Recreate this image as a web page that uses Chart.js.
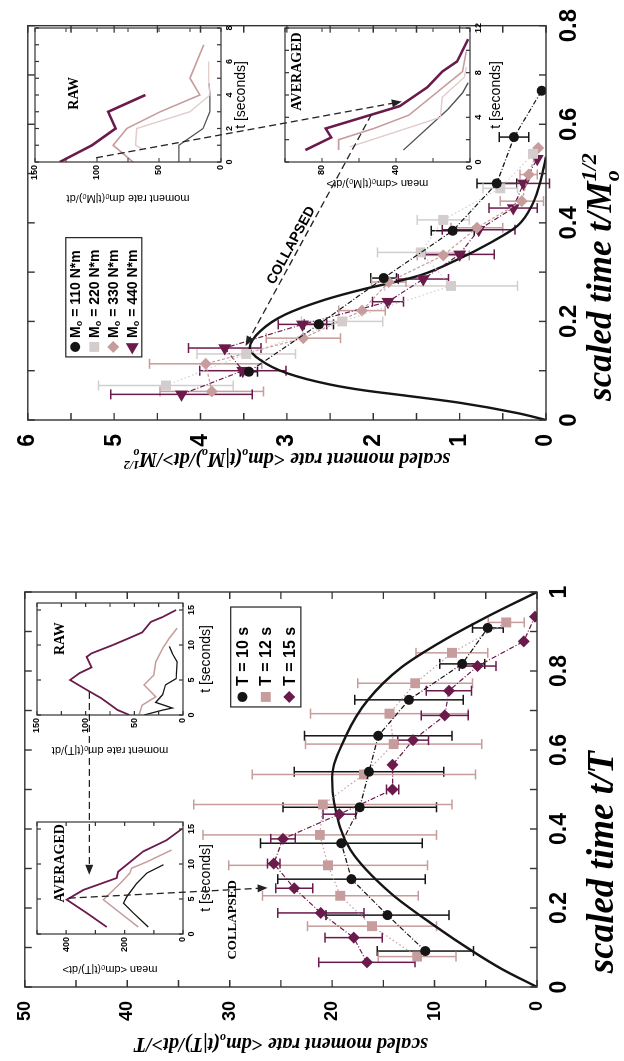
<!DOCTYPE html>
<html>
<head>
<meta charset="utf-8">
<title>moment rate collapse</title>
<script src="https://cdn.jsdelivr.net/npm/chart.js@4.4.1/dist/chart.umd.min.js"></script>
<style>
  html, body { margin: 0; padding: 0; background: #fff; overflow: hidden; }
  /* the whole figure is laid out landscape and turned a quarter turn */
  #fig { position: absolute; left: 0; top: 0; width: 1061px; height: 624px;
         transform-origin: 0 0; transform: translate(0, 1061px) rotate(-90deg); }
  #fig canvas { position: absolute; }
</style>
</head>
<body>
<div id="fig">
  <canvas id="mainT"></canvas>
  <canvas id="mainM"></canvas>
  <canvas id="rawT"></canvas>
  <canvas id="avgT"></canvas>
  <canvas id="rawM"></canvas>
  <canvas id="avgM"></canvas>
  <canvas id="noteT"></canvas>
  <canvas id="noteM"></canvas>
</div>
<script>
// ---------- left panel: fixed duration T, scaled time t/T ----------
var xT10 = [0.091, 0.182, 0.273, 0.364, 0.455, 0.545, 0.636, 0.727, 0.818, 0.909];
var yT10 = [10.9, 14.6, 18.1, 19.1, 17.3, 16.4, 15.5, 12.5, 7.3, 4.8];
var eT10 = [4.7, 6.0, 7.2, 7.9, 7.5, 7.3, 7.2, 5.3, 2.2, 1.5];

var xT12 = [0.077, 0.154, 0.231, 0.308, 0.385, 0.462, 0.538, 0.615, 0.692, 0.769, 0.846, 0.923];
var yT12 = [11.7, 16.1, 19.2, 20.4, 21.2, 20.9, 16.9, 14.0, 14.4, 11.9, 8.3, 3.0];
var eT12 = [3.8, 6.3, 7.6, 9.7, 11.4, 12.6, 10.9, 8.6, 7.7, 5.6, 3.5, 1.75];

var xT15 = [0.0625, 0.125, 0.1875, 0.25, 0.3125, 0.375, 0.4375, 0.5, 0.5625, 0.625, 0.6875, 0.75, 0.8125, 0.875, 0.9375];
var yT15 = [16.6, 17.9, 21.1, 23.7, 25.7, 24.8, 19.3, 14.1, 14.1, 12.1, 9.0, 8.6, 5.8, 1.3, 0.2];
var eT15 = [4.7, 2.8, 4.2, 1.8, 0.6, 1.2, 1.6, 0.6, 0, 1.5, 2.3, 2.2, 1.8, 0, 0];

var xCollT = [0, 0.045, 0.089, 0.157, 0.238, 0.347, 0.466, 0.53, 0.633, 0.727, 0.808, 0.878, 0.937, 1];
var yCollT = [0, 3.4, 6.2, 10.1, 14.3, 18.2, 19.8, 20.0, 18.7, 16.5, 13.3, 9.1, 4.9, 0];

// insets, seconds vs moment rate
var rawT15t = [0, 0.7, 2.4, 3.6, 5.0, 6.0, 6.8, 8.3, 8.8, 10, 11, 11.8, 13.3, 14, 15];
var rawT15r = [55, 67, 84, 99, 116, 106, 94, 99, 94, 72, 55, 42, 33, 21, 7];
var rawT12t = [0.1, 1.4, 2.6, 4.3, 5.7, 7.6, 9.5, 11, 12.4];
var rawT12r = [45, 42, 28, 40, 30, 28, 21, 14, 6];
var rawT10t = [0, 0.7, 1.0, 1.8, 2.9, 4.3, 5.2, 7.6, 8.8, 9.8];
var rawT10r = [40, 21, 11, 28, 21, 18, 7, 6, 11, 14];

var avgT15t = [1.0, 3.0, 4.9, 6.3, 8.0, 8.9, 11.8, 13.4, 15];
var avgT15r = [261, 330, 398, 341, 227, 222, 136, 56, 4];
var avgT12t = [1.0, 4.9, 7.2, 8.7, 9.4, 10.3, 12];
var avgT12r = [153, 273, 216, 182, 176, 124, 39];
var avgT10t = [1.0, 3.0, 4.4, 5.3, 7.2, 8.7, 9.9];
var avgT10r = [119, 170, 204, 193, 159, 124, 67];

// ---------- right panel: fixed moment M0, scaled time t/M0^1/2 ----------
var xM110 = [0.098, 0.194, 0.288, 0.384, 0.48, 0.574, 0.668];
var yM110 = [3.44, 2.63, 1.88, 1.08, 0.57, 0.37, 0.05];
var eM110 = [0.1, 0.17, 0.15, 0.25, 0.23, 0.17, 0];

var xM220 = [0.07, 0.134, 0.2, 0.272, 0.34, 0.406, 0.47, 0.54];
var yM220 = [4.4, 3.47, 2.36, 1.1, 1.45, 1.19, 0.53, 0.15];
var eM220 = [0.78, 0.57, 0.47, 0.77, 0.5, 0.3, 0.2, 0];

var xM330 = [0.058, 0.114, 0.166, 0.222, 0.28, 0.334, 0.39, 0.444, 0.498, 0.552];
var yM330 = [3.87, 3.94, 2.81, 2.13, 1.82, 1.19, 0.8, 0.28, 0.2, 0.09];
var eM330 = [0.6, 0.65, 0.43, 0.27, 0.2, 0.3, 0.3, 0.25, 0.1, 0];

var xM440 = [0.052, 0.1, 0.146, 0.194, 0.24, 0.286, 0.336, 0.386, 0.43, 0.48, 0.53];
var yM440 = [4.22, 3.51, 3.72, 2.82, 1.83, 1.42, 1.0, 0.78, 0.38, 0.26, 0.1];
var eM440 = [0.82, 0.5, 0.42, 0.28, 0.18, 0.29, 0.4, 0.42, 0.28, 0.3, 0];

var xCollM = [0, 0.014, 0.035, 0.05, 0.06, 0.072, 0.095, 0.122, 0.146, 0.18, 0.214, 0.244, 0.266, 0.28, 0.294, 0.326, 0.36, 0.394, 0.44, 0.494, 0.534];
var yCollM = [0, 0.33, 1.0, 1.65, 2.1, 2.5, 3.0, 3.31, 3.43, 3.31, 3.02, 2.56, 2.1, 1.75, 1.45, 1.02, 0.64, 0.33, 0.15, 0.05, 0];

var rawM440t = [0, 1, 2, 3, 4];
var rawM440r = [130, 104, 85, 91, 61];
var rawM330t = [0, 1, 2, 3, 4, 5, 7];
var rawM330r = [71, 87, 76, 49, 17, 25, 14];
var rawM220t = [0.8, 1, 2, 3, 4, 5, 6];
var rawM220r = [64, 69, 68, 25, 9, 10, 10];
var rawM110t = [0, 1, 2, 3, 4, 4.7];
var rawM110r = [34, 34, 14.5, 9, 9, 9.5];

var avgM440t = [1.07, 2.2, 3.0, 5.0, 6.7, 8.1, 9.0, 10, 11];
var avgM440r = [89, 75, 78, 38, 23, 15, 7, 4, 1];
var avgM330t = [1.07, 2.0, 3.0, 4.2, 6.5, 8.1, 9.9];
var avgM330r = [71, 71, 52, 33, 16, 4, 2];
var avgM220t = [1.35, 4.0, 5.8, 7.6, 8.5];
var avgM220r = [65, 16, 15, 3, 2];
var avgM110t = [1.07, 4.7, 6.2, 7.1];
var avgM110r = [36, 12, 4, 1];

var BLACK = '#151515', GREY = '#d3cdcd', TAN = '#c79c9c', PURPLE = '#6b1a4c', PINK = '#e2cccc', DGREY = '#505050';
var SANS = "'Liberation Sans', Arial, sans-serif";
var SERIF = "'Liberation Serif', 'Times New Roman', serif";
Chart.defaults.font.family = SANS;
Chart.defaults.color = '#000';

function pts(xs, ys) { return xs.map(function (x, i) { return { x: x, y: ys[i] }; }); }

function place(cv, u, v, w, h) {
  cv.width = w; cv.height = h;
  cv.style.left = u + 'px'; cv.style.top = v + 'px';
  cv.style.width = w + 'px'; cv.style.height = h + 'px';
}

// text runs with subscripts / superscripts; a sup right after a sub stacks on it
function layoutRich(c, parts, size, style, fam) {
  var x = 0, out = [], sub = null;
  parts.forEach(function (p) {
    var kind = p[1] || '';
    var f = style + ' ' + (kind ? Math.round(size * 0.62) : size) + 'px ' + fam;
    c.font = f;
    var w = c.measureText(p[0]).width, px = x;
    if (kind === 'sup' && sub) px = sub.x;
    out.push({ t: p[0], f: f, x: px, dy: kind === 'sub' ? size * 0.22 : kind === 'sup' ? -size * 0.42 : 0 });
    if (kind === 'sub') { sub = { x: px, w: w }; x = px + w; }
    else if (kind === 'sup' && sub) { x = Math.max(sub.x + sub.w, px + w); sub = null; }
    else { x = px + w; sub = null; }
  });
  return { items: out, width: x };
}
function drawRich(c, L, x0, y0) {
  L.items.forEach(function (it) { c.font = it.f; c.fillText(it.t, x0 + it.x, y0 + it.dy); });
}

function marker(c, style, x, y, r, rot, col) {
  c.save();
  c.translate(x, y); c.rotate((rot || 0) * Math.PI / 180);
  c.fillStyle = col; c.beginPath();
  if (style === 'circle') c.arc(0, 0, r, 0, 2 * Math.PI);
  else if (style === 'rect') { var s = r * Math.SQRT1_2; c.rect(-s, -s, 2 * s, 2 * s); }
  else if (style === 'rectRot') { c.moveTo(0, -r); c.lineTo(r, 0); c.lineTo(0, r); c.lineTo(-r, 0); c.closePath(); }
  else if (style === 'triangle') {
    c.moveTo(0, -r); c.lineTo(r * Math.sin(Math.PI * 2 / 3), -r * Math.cos(Math.PI * 2 / 3));
    c.lineTo(-r * Math.sin(Math.PI * 2 / 3), -r * Math.cos(Math.PI * 2 / 3)); c.closePath();
  }
  c.fill();
  c.restore();
}

// closed box with inward ticks on every side
function boxFrame(f) {
  return {
    id: 'boxFrame',
    afterDraw: function (chart) {
      var c = chart.ctx, a = chart.chartArea, x = chart.scales.x, y = chart.scales.y, i, n, p;
      c.save();
      c.strokeStyle = '#333'; c.lineWidth = f.width;
      c.strokeRect(a.left, a.top, a.right - a.left, a.bottom - a.top);
      c.beginPath();
      n = Math.round((x.max - x.min) / f.xStep);
      for (i = 0; i <= n; i++) {
        p = x.getPixelForValue(x.min + i * f.xStep);
        c.moveTo(p, a.bottom); c.lineTo(p, a.bottom - f.len);
        c.moveTo(p, a.top); c.lineTo(p, a.top + f.len);
      }
      n = Math.round((y.max - y.min) / f.yStep);
      for (i = 0; i <= n; i++) {
        p = y.getPixelForValue(y.min + i * f.yStep);
        c.moveTo(a.left, p); c.lineTo(a.left + f.len, p);
        c.moveTo(a.right, p); c.lineTo(a.right - f.len, p);
      }
      c.stroke();
      c.restore();
    }
  };
}

var errorBars = {
  id: 'errorBars',
  beforeDatasetsDraw: function (chart) {
    var c = chart.ctx, x = chart.scales.x, y = chart.scales.y;
    chart.data.datasets.forEach(function (ds) {
      if (!ds.err) return;
      c.save();
      c.strokeStyle = ds.errColor; c.lineWidth = 1.5;
      c.beginPath();
      ds.data.forEach(function (p, i) {
        var e = ds.err[i];
        if (!e) return;
        var px = x.getPixelForValue(p.x), lo = y.getPixelForValue(p.y - e), hi = y.getPixelForValue(p.y + e);
        c.moveTo(px, lo); c.lineTo(px, hi);
        c.moveTo(px - 5, lo); c.lineTo(px + 5, lo);
        c.moveTo(px - 5, hi); c.lineTo(px + 5, hi);
      });
      c.stroke();
      c.restore();
    });
  }
};

function keyBox(k) {
  return {
    id: 'keyBox',
    afterDraw: function (chart) {
      var c = chart.ctx, x = chart.scales.x, y = chart.scales.y;
      var l = x.getPixelForValue(k.x0), r = x.getPixelForValue(k.x1);
      var t = y.getPixelForValue(k.y0), b = y.getPixelForValue(k.y1);
      c.save();
      c.fillStyle = '#fff'; c.fillRect(l, t, r - l, b - t);
      c.strokeStyle = '#222'; c.lineWidth = 1.2; c.strokeRect(l, t, r - l, b - t);
      var items = chart.data.datasets.filter(function (ds) { return ds.key; });
      var step = (b - t) / items.length;
      c.textBaseline = 'middle'; c.fillStyle = '#000';
      items.forEach(function (ds, i) {
        var cy = t + step * (i + 0.5);
        marker(c, ds.pointStyle, l + 10, cy, ds.pointRadius, ds.pointRotation, ds.backgroundColor);
        c.fillStyle = '#000';
        drawRich(c, layoutRich(c, ds.key, k.size, 'bold', SANS), l + k.gap, cy + 1);
      });
      c.restore();
    }
  };
}

function axisTitles(o) {
  return {
    id: 'axisTitles',
    afterDraw: function (chart) {
      var c = chart.ctx, a = chart.chartArea, x = chart.scales.x;
      c.save();
      c.fillStyle = '#000'; c.textBaseline = 'alphabetic';
      var L = layoutRich(c, o.x, o.xSize, 'italic bold', SERIF);
      drawRich(c, L, x.getPixelForValue(o.xAt) - L.width / 2, a.bottom + o.xOff);
      c.translate(o.yPos, (a.top + a.bottom) / 2);
      c.rotate(-Math.PI / 2);
      L = layoutRich(c, o.y, o.ySize, 'italic bold', SERIF);
      drawRich(c, L, -L.width / 2, 0);
      c.restore();
    }
  };
}

function series(label, xs, ys, es, style, col, r, dash, key, rot) {
  return {
    label: label, data: pts(xs, ys), err: es, errColor: col, key: key,
    pointStyle: style, pointRadius: r, pointRotation: rot || 0, pointHoverRadius: r,
    backgroundColor: col, borderColor: col, pointBorderWidth: 0,
    showLine: true, borderWidth: 1.2, borderDash: dash
  };
}
function curve(xs, ys) {
  return { data: pts(xs, ys), showLine: true, pointRadius: 0, borderColor: BLACK, borderWidth: 2.4,
           cubicInterpolationMode: 'monotone', backgroundColor: BLACK };
}

function mainChart(id, p) {
  return new Chart(document.getElementById(id), {
    type: 'scatter',
    data: { datasets: p.datasets },
    options: {
      responsive: false, animation: false, devicePixelRatio: 1,
      layout: { padding: { top: 23, right: p.padRight, left: 0, bottom: 0 } },
      plugins: { legend: { display: false }, tooltip: { enabled: false } },
      scales: {
        x: {
          type: 'linear', min: 0, max: p.xMax,
          afterFit: function (s) { s.height = p.xAxisH; },
          grid: { display: false, drawTicks: false }, border: { display: false },
          ticks: { stepSize: 0.2, padding: 9, maxRotation: 0, color: '#000',
                   font: { size: p.xFont, weight: 'bold' },
                   callback: function (v) { return String(Math.round(v * 10) / 10); } }
        },
        y: {
          type: 'linear', min: 0, max: p.yMax,
          afterFit: function (s) { s.width = p.yAxisW; },
          grid: { display: false, drawTicks: false }, border: { display: false },
          ticks: { stepSize: p.yStep, padding: 14, color: '#000', font: { size: p.yFont, weight: 'bold' } }
        }
      }
    },
    plugins: [errorBars, boxFrame({ width: 1.4, len: 7, xStep: 0.1, yStep: p.yMinor }),
              keyBox(p.key), axisTitles(p.titles)]
  });
}

function line(xs, ys, col, w) {
  return { data: pts(xs, ys), showLine: true, pointRadius: 0, borderColor: col, borderWidth: w };
}

// small inset; box is the plot area inside the figure, m the room around it
function inset(id, box, p) {
  var m = { l: 48, r: 14, t: 12, b: 44 };
  var cv = document.getElementById(id);
  place(cv, box[0] - m.l, box[2] - m.t, box[1] - box[0] + m.l + m.r, box[3] - box[2] + m.t + m.b);
  return new Chart(cv, {
    type: 'scatter',
    data: { datasets: p.lines },
    options: {
      responsive: false, animation: false, devicePixelRatio: 1,
      layout: { padding: { top: m.t, right: m.r, left: 0, bottom: 0 } },
      plugins: { legend: { display: false }, tooltip: { enabled: false } },
      scales: {
        x: {
          type: 'linear', min: 0, max: p.tMax,
          afterFit: function (s) { s.height = m.b; },
          grid: { display: false, drawTicks: false }, border: { display: false },
          ticks: { stepSize: p.tStep, includeBounds: false, padding: 3, maxRotation: 0,
                   font: { size: 9, weight: 'bold' },
                   callback: function (v) { return v % p.tLab === 0 ? v : ''; } },
          title: { display: true, text: 't [seconds]', font: { size: 14 }, padding: { top: 0, bottom: p.tTitlePad } }
        },
        y: {
          type: 'linear', min: 0, max: p.rMax,
          afterFit: function (s) { s.width = m.l; },
          grid: { display: false, drawTicks: false }, border: { display: false },
          ticks: { stepSize: p.rStep, padding: 3, font: { size: 9, weight: 'bold' },
                   callback: function (v) { return v % p.rLab === 0 ? v : ''; } },
          title: { display: true, text: p.rTitle, font: { size: 11 }, padding: { top: p.rTitlePad, bottom: 0 } }
        }
      }
    },
    plugins: [boxFrame({ width: 1.2, len: 4, xStep: p.tStep, yStep: p.rStep }), {
      id: 'tag',
      afterDraw: function (chart) {
        var c = chart.ctx;
        c.save();
        c.font = 'bold 14px ' + SERIF; c.fillStyle = '#000';
        c.textAlign = 'center'; c.textBaseline = 'middle';
        c.fillText(p.tag[0], chart.scales.x.getPixelForValue(p.tag[1]), chart.scales.y.getPixelForValue(p.tag[2]));
        c.restore();
      }
    }]
  });
}

place(document.getElementById('mainT'), 0, 0, 531, 624);
place(document.getElementById('mainM'), 531, 0, 530, 624);

var chartT = mainChart('mainT', {
  xMax: 1, yMax: 50, yStep: 10, yMinor: 5, xFont: 23, yFont: 18,
  padRight: 62, yAxisW: 74, xAxisH: 87,
  datasets: [
    series('T = 10 s', xT10, yT10, eT10, 'circle', BLACK, 5, [5, 2, 1, 2], [['T = 10 s']]),
    series('T = 12 s', xT12, yT12, eT12, 'rect', TAN, 7, [1.5, 2.5], [['T = 12 s']]),
    series('T = 15 s', xT15, yT15, eT15, 'rectRot', PURPLE, 6, [5, 2, 1, 2], [['T = 15 s']]),
    curve(xCollT, yCollT)
  ],
  key: { x0: 0.709, x1: 0.962, y0: 29.9, y1: 23.05, size: 16, gap: 21 },
  titles: {
    x: [['scaled time t/T']], xSize: 37, xAt: 0.316, xOff: 76,
    y: [['scaled moment rate <dm'], ['o', 'sub'], ['(t|T)/dt>/T']], ySize: 20, yPos: 23
  }
});

var chartM = mainChart('mainM', {
  xMax: 0.8, yMax: 6, yStep: 1, yMinor: 0.5, xFont: 24, yFont: 23,
  padRight: 20, yAxisW: 110, xAxisH: 78,
  datasets: [
    series('110', xM110, yM110, eM110, 'circle', BLACK, 5, [5, 2, 1, 2], [['M'], ['o', 'sub'], [' = 110 N*m']]),
    series('220', xM220, yM220, eM220, 'rect', GREY, 7, [1.5, 2.5], [['M'], ['o', 'sub'], [' = 220 N*m']]),
    series('330', xM330, yM330, eM330, 'rectRot', TAN, 6, [3, 2], [['M'], ['o', 'sub'], [' = 330 N*m']]),
    series('440', xM440, yM440, eM440, 'triangle', PURPLE, 7.5, [5, 2, 1, 2], [['M'], ['o', 'sub'], [' = 440 N*m']], -90),
    curve(xCollM, yCollM)
  ],
  key: { x0: 0.128, x1: 0.37, y0: 5.56, y1: 4.68, size: 14, gap: 19 },
  titles: {
    x: [['scaled time t/M'], ['o', 'sub'], ['1/2', 'sup']], xSize: 35, xAt: 0.29, xOff: 65,
    y: [['scaled moment rate <dm'], ['o', 'sub'], ['(t|M'], ['o', 'sub'], [')/dt>/M'], ['o', 'sub'], ['1/2', 'sup']],
    ySize: 20, yPos: 77
  }
});

inset('rawT', [346, 458, 37, 183], {
  tMax: 16, tStep: 5, tLab: 5, rMax: 150, rStep: 25, rLab: 50, tTitlePad: 12, rTitlePad: 6,
  rTitle: 'moment rate dmₒ(t|T)/dt', tag: ['RAW', 10.9, 126],
  lines: [line(rawT15t, rawT15r, PURPLE, 1.8), line(rawT12t, rawT12r, TAN, 1.5), line(rawT10t, rawT10r, BLACK, 1.3)]
});
inset('avgT', [127, 239, 37, 183], {
  tMax: 16, tStep: 5, tLab: 5, rMax: 500, rStep: 100, rLab: 200, tTitlePad: 12, rTitlePad: 6,
  rTitle: 'mean <dmₒ(t|T)/dt>', tag: ['AVERAGED', 10.1, 421],
  lines: [line(avgT15t, avgT15r, PURPLE, 1.8), line(avgT12t, avgT12r, TAN, 1.5), line(avgT10t, avgT10r, BLACK, 1.3)]
});
inset('rawM', [899, 1033, 35, 221], {
  tMax: 8, tStep: 1, tLab: 2, rMax: 150, rStep: 25, rLab: 50, tTitlePad: 15, rTitlePad: 5,
  rTitle: 'moment rate dmₒ(t|Mₒ)/dt', tag: ['RAW', 4.1, 118],
  lines: [line(rawM440t, rawM440r, PURPLE, 2.6), line(rawM330t, rawM330r, TAN, 1.6),
          line(rawM220t, rawM220r, PINK, 1.4), line(rawM110t, rawM110r, DGREY, 1.3)]
});
inset('avgM', [899, 1033, 285, 470], {
  tMax: 12, tStep: 2, tLab: 4, rMax: 100, rStep: 20, rLab: 40, tTitlePad: 9, rTitlePad: 20,
  rTitle: 'mean <dmₒ(t|Mₒ)/dt>', tag: ['AVERAGED', 8.1, 93.5],
  lines: [line(avgM440t, avgM440r, PURPLE, 2.6), line(avgM330t, avgM330r, TAN, 1.6),
          line(avgM220t, avgM220r, PINK, 1.4), line(avgM110t, avgM110r, DGREY, 1.3)]
});

// dashed arrows and labels tying the insets to the collapsed data
function notes(id, chart, u, w, draw) {
  var cv = document.getElementById(id);
  place(cv, u, 0, w, 624);
  var c = cv.getContext('2d');
  var at = function (x, y) { return [chart.scales.x.getPixelForValue(x), chart.scales.y.getPixelForValue(y)]; };
  draw(c, at);
}
function arrow(c, p0, p1) {
  var ang = Math.atan2(p1[1] - p0[1], p1[0] - p0[0]);
  c.save();
  c.strokeStyle = '#222'; c.fillStyle = '#222'; c.lineWidth = 1.3;
  c.setLineDash([7, 4]);
  c.beginPath(); c.moveTo(p0[0], p0[1]);
  c.lineTo(p1[0] - 8 * Math.cos(ang), p1[1] - 8 * Math.sin(ang)); c.stroke();
  c.setLineDash([]);
  c.translate(p1[0], p1[1]); c.rotate(ang);
  c.beginPath(); c.moveTo(0, 0); c.lineTo(-10, -4); c.lineTo(-10, 4); c.closePath(); c.fill();
  c.restore();
}

notes('noteT', chartT, 0, 531, function (c, at) {
  arrow(c, at(0.747, 43.7), at(0.284, 43.7));
  arrow(c, at(0.225, 45.7), at(0.251, 26.3));
  var p = at(0.17, 29.7);
  c.font = 'bold 13px ' + SERIF; c.fillStyle = '#000';
  c.textAlign = 'center'; c.textBaseline = 'middle';
  c.fillText('COLLAPSED', p[0], p[1]);
});
notes('noteM', chartM, 531, 530, function (c, at) {
  arrow(c, at(0.532, 5.21), at(0.646, 1.67));
  var a = at(0.15, 3.48), b = at(0.62, 2.02);
  arrow(c, b, a);
  var p = at(0.354, 2.95);
  c.save();
  c.translate(p[0], p[1]); c.rotate(Math.atan2(b[1] - a[1], b[0] - a[0]));
  c.font = 'bold 14px ' + SANS; c.fillStyle = '#000';
  c.textAlign = 'center'; c.textBaseline = 'middle';
  c.fillText('COLLAPSED', 0, 0);
  c.restore();
});
</script>
</body>
</html>
